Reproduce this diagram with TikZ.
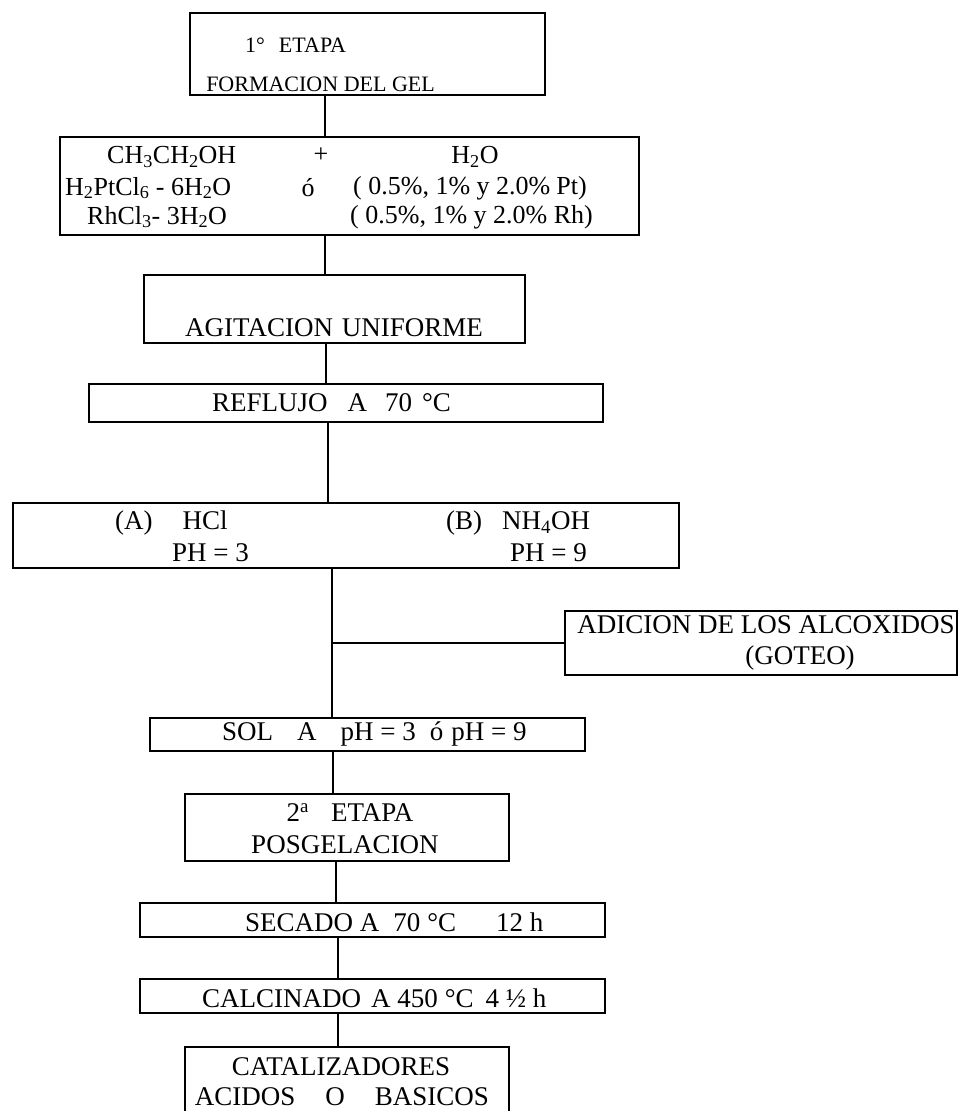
\documentclass[tikz,border=0pt]{standalone}
\usepackage{fontspec}
\setmainfont{Liberation Serif}
\begin{document}
\begin{tikzpicture}[x=1pt,y=-1pt,
  box/.style={draw, line width=1.6pt, inner sep=0pt},
  txt/.style={inner sep=0pt, font=\fontsize{27}{31}\selectfont},
  txtm/.style={inner sep=0pt, font=\fontsize{26}{30}\selectfont},
  txts/.style={inner sep=0pt, font=\fontsize{22}{26}\selectfont},
  link/.style={line width=1.5pt}]
\clip (0,0) rectangle (959,1111);
% boxes
\node[box, minimum width=355pt, minimum height=82pt] (b1) at (367.5,54) {};
\node[box, minimum width=579pt, minimum height=98pt] (b2) at (349.5,186) {};
\node[box, minimum width=381pt, minimum height=68pt] (b3) at (334.5,309) {};
\node[box, minimum width=514pt, minimum height=38pt] (b4) at (346,403) {};
\node[box, minimum width=666pt, minimum height=65pt] (b5) at (346,535.5) {};
\node[box, minimum width=392pt, minimum height=64pt] (ad) at (761,643) {};
\node[box, minimum width=435pt, minimum height=33pt] (sol) at (367.5,734.5) {};
\node[box, minimum width=324pt, minimum height=67pt] (e2) at (347,827.5) {};
\node[box, minimum width=465pt, minimum height=34pt] (sec) at (372.5,920) {};
\node[box, minimum width=465pt, minimum height=34pt] (cal) at (372.5,996) {};
\node[box, minimum width=324pt, minimum height=90pt] (cat) at (347,1092) {};
% texts
\node[txts, anchor=west] (t1a) at (245,45) {1°\hspace{14pt}ETAPA};
\node[txts, anchor=east] (t1b) at (435,84) {FORMACION DEL GEL};
\node[txtm, anchor=west] (t2a) at (107,157) {CH\textsubscript{3}CH\textsubscript{2}OH};
\node[txtm] (t2b) at (321,155) {+};
\node[txtm] (t2c) at (475,157) {H\textsubscript{2}O};
\node[txtm, anchor=west] (t2d) at (65,188) {H\textsubscript{2}PtCl\textsubscript{6} - 6H\textsubscript{2}O};
\node[txtm] (t2e) at (308,188) {ó};
\node[txtm, anchor=west] (t2f) at (353,188) {( 0.5\%, 1\% y 2.0\%\hspace{6pt}Pt)};
\node[txtm, anchor=west] (t2g) at (87,217) {RhCl\textsubscript{3}- 3H\textsubscript{2}O};
\node[txtm, anchor=west] (t2h) at (350,217) {( 0.5\%, 1\% y 2.0\% Rh)};
\node[txt, anchor=west] (t3) at (185,328) {AGITACION\hspace{9pt}UNIFORME};
\node[txt, anchor=west] (t4) at (212,403) {REFLUJO\hspace{20pt}A\hspace{18pt}70\hspace{10pt}°C};
\node[txt, anchor=west] (t5a) at (115,523) {(A)\hspace{30pt}HCl};
\node[txt, anchor=west] (t5b) at (172,553) {PH = 3};
\node[txt, anchor=west] (t5c) at (446,523) {(B)\hspace{20pt}NH\textsubscript{4}OH};
\node[txt, anchor=west] (t5d) at (510,553) {PH = 9};
\node[txt] (tad1) at (766,625) {ADICION DE LOS ALCOXIDOS};
\node[txt] (tad2) at (800,658) {(GOTEO)};
\node[txt, anchor=west] (tsol) at (222,734) {SOL\hspace{24pt}A\hspace{24pt}pH = 3\hspace{14pt}ó\hspace{8pt}pH = 9};
\node[txt] (te2a) at (350,813) {2\textsuperscript{a}\hspace{22pt}ETAPA};
\node[txt] (te2b) at (345,845) {POSGELACION};
\node[txt, anchor=west] (tsec) at (245,922) {SECADO A\hspace{14pt}70\hspace{7pt}°C\hspace{40pt}12 h};
\node[txt, anchor=west] (tcal) at (202,998) {CALCINADO\hspace{10pt}A 450\hspace{7pt}°C\hspace{12pt}4 ½ h};
\node[txt] (tcat1) at (341,1067) {CATALIZADORES};
\node[txt] (tcat2) at (342,1097) {ACIDOS\hspace{30pt}O\hspace{30pt}BASICOS};
% connectors
\coordinate (s1) at (325,0);
\coordinate (s2) at (326,0);
\coordinate (s3) at (328,0);
\coordinate (s4) at (332,0);
\coordinate (s5) at (333,0);
\coordinate (s6) at (336,0);
\coordinate (s7) at (338,0);
\draw[link] (s1 |- b1.south) -- (s1 |- b2.north);
\draw[link] (s1 |- b2.south) -- (s1 |- b3.north);
\draw[link] (s2 |- b3.south) -- (s2 |- b4.north);
\draw[link] (s3 |- b4.south) -- (s3 |- b5.north);
\draw[link] (s4 |- b5.south) -- (s4 |- sol.north);
\draw[link] (ad.west) -- (s4 |- ad.west);
\draw[link] (s5 |- sol.south) -- (s5 |- e2.north);
\draw[link] (s6 |- e2.south) -- (s6 |- sec.north);
\draw[link] (s7 |- sec.south) -- (s7 |- cal.north);
\draw[link] (s7 |- cal.south) -- (s7 |- cat.north);
\end{tikzpicture}
\end{document}
